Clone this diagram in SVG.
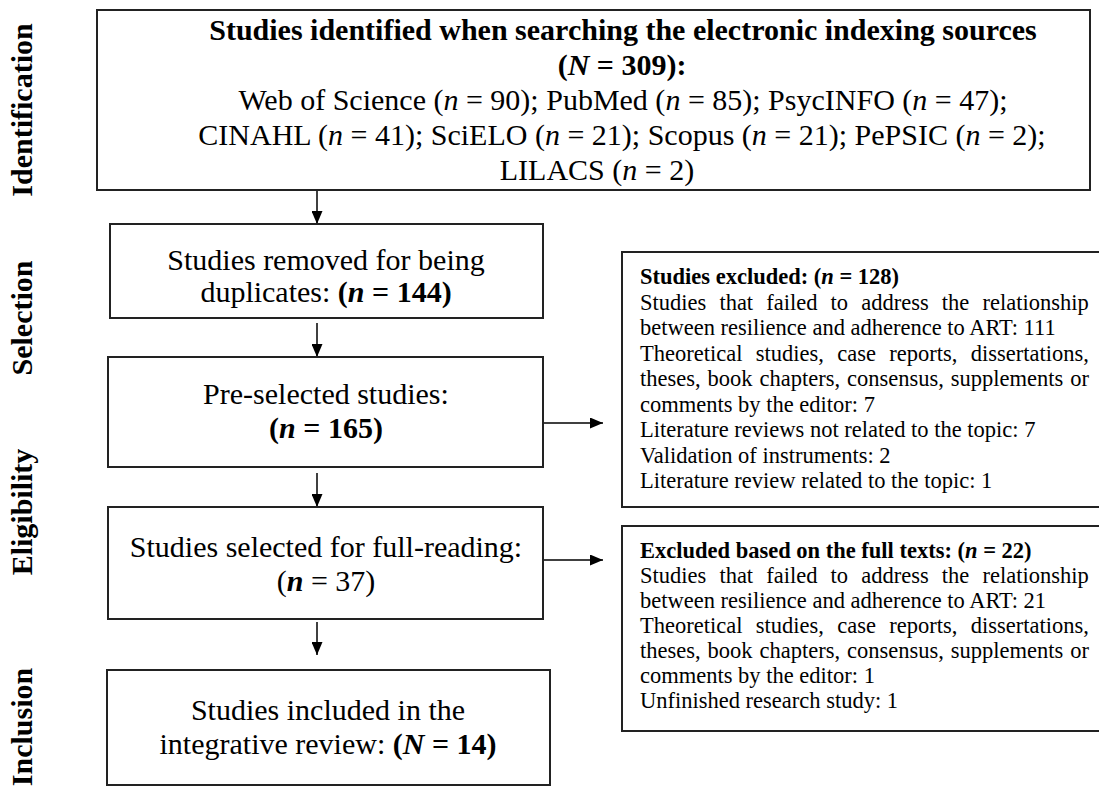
<svg xmlns="http://www.w3.org/2000/svg" width="1099" height="787" viewBox="0 0 1099 787">
<style>
.t{font-family:"Liberation Serif","Times New Roman",serif;fill:#000}
.m{font-size:30px}
.s{font-size:22.5px}
.b{font-weight:bold}
.i{font-style:italic}
.c{text-anchor:middle}
.box{fill:#fff;stroke:#222;stroke-width:2}
.conn{stroke:#000;stroke-width:1.5;fill:none}
</style>
<defs>
<marker id="ah" markerUnits="userSpaceOnUse" markerWidth="13" markerHeight="11" refX="13" refY="5.5" orient="auto">
<path d="M0,0 L13,5.5 L0,11 z" fill="#000"/>
</marker>
</defs>
<rect width="1099" height="787" fill="#fff"/>

<g id="stage-labels" class="t m b">
<text class="c" transform="translate(32,110) rotate(-90)">Identification</text>
<text class="c" transform="translate(32,318) rotate(-90)">Selection</text>
<text class="c" transform="translate(32,512) rotate(-90)">Eligibility</text>
<text class="c" transform="translate(32,727) rotate(-90)">Inclusion</text>
</g>

<g id="connectors">
<line class="conn" x1="317" y1="190" x2="317" y2="224" marker-end="url(#ah)"/>
<line class="conn" x1="317" y1="323" x2="317" y2="357" marker-end="url(#ah)"/>
<line class="conn" x1="317" y1="473" x2="317" y2="507" marker-end="url(#ah)"/>
<line class="conn" x1="317" y1="622" x2="317" y2="655" marker-end="url(#ah)"/>
<line class="conn" x1="543" y1="423" x2="603" y2="423" marker-end="url(#ah)"/>
<line class="conn" x1="543" y1="560" x2="603" y2="560" marker-end="url(#ah)"/>
</g>

<g id="identified">
<rect class="box" x="97" y="10" width="993" height="180"/>
<text class="t m b c" x="623" y="40">Studies identified when searching the electronic indexing sources</text>
<text class="t m b c" x="622" y="75">(<tspan class="i">N</tspan> = 309):</text>
<text class="t m c" x="623" y="110">Web of Science (<tspan class="i">n</tspan> = 90); PubMed (<tspan class="i">n</tspan> = 85); PsycINFO (<tspan class="i">n</tspan> = 47);</text>
<text class="t m c" x="622" y="145">CINAHL (<tspan class="i">n</tspan> = 41); SciELO (<tspan class="i">n</tspan> = 21); Scopus (<tspan class="i">n</tspan> = 21); PePSIC (<tspan class="i">n</tspan> = 2);</text>
<text class="t m c" x="597" y="180">LILACS (<tspan class="i">n</tspan> = 2)</text>
</g>

<g id="duplicates">
<rect class="box" x="110" y="224" width="433" height="94"/>
<text class="t m c" x="326" y="270">Studies removed for being</text>
<text class="t m c" x="326" y="302">duplicates: <tspan class="b">(<tspan class="i">n</tspan> = 144)</tspan></text>
</g>

<g id="preselected">
<rect class="box" x="108" y="357" width="435" height="110"/>
<text class="t m c" x="326" y="404">Pre-selected studies:</text>
<text class="t m b c" x="326" y="438">(<tspan class="i">n</tspan> = 165)</text>
</g>

<g id="fullreading">
<rect class="box" x="108" y="507" width="435" height="112"/>
<text class="t m c" x="326" y="557">Studies selected for full-reading:</text>
<text class="t m c" x="326" y="591">(<tspan class="b i">n</tspan> = 37)</text>
</g>

<g id="included">
<rect class="box" x="107" y="670" width="443" height="115"/>
<text class="t m c" x="328" y="720">Studies included in the</text>
<text class="t m c" x="328" y="754">integrative review: <tspan class="b">(<tspan class="i">N</tspan> = 14)</tspan></text>
</g>

<g id="excluded-screening">
<rect class="box" x="622" y="252" width="479" height="255"/>
<text class="t s b" x="640" y="284">Studies excluded: (<tspan class="i">n</tspan> = 128)</text>
<text class="t s" x="640" y="309.5" word-spacing="7.5">Studies that failed to address the relationship</text>
<text class="t s" x="640" y="335">between resilience and adherence to ART: 111</text>
<text class="t s" x="640" y="360.5" word-spacing="7.7">Theoretical studies, case reports, dissertations,</text>
<text class="t s" x="640" y="386" word-spacing="1.3">theses, book chapters, consensus, supplements or</text>
<text class="t s" x="640" y="411.5">comments by the editor: 7</text>
<text class="t s" x="640" y="437">Literature reviews not related to the topic: 7</text>
<text class="t s" x="640" y="462.5">Validation of instruments: 2</text>
<text class="t s" x="640" y="488">Literature review related to the topic: 1</text>
</g>

<g id="excluded-fulltext">
<rect class="box" x="622" y="526" width="479" height="205"/>
<text class="t s b" x="640" y="558">Excluded based on the full texts: (<tspan class="i">n</tspan> = 22)</text>
<text class="t s" x="640" y="583" word-spacing="7.5">Studies that failed to address the relationship</text>
<text class="t s" x="640" y="608">between resilience and adherence to ART: 21</text>
<text class="t s" x="640" y="633" word-spacing="7.7">Theoretical studies, case reports, dissertations,</text>
<text class="t s" x="640" y="658" word-spacing="1.3">theses, book chapters, consensus, supplements or</text>
<text class="t s" x="640" y="683">comments by the editor: 1</text>
<text class="t s" x="640" y="708">Unfinished research study: 1</text>
</g>
</svg>
